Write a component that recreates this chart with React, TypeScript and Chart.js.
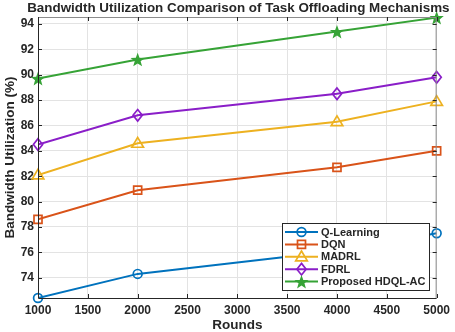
import React, { useEffect, useRef } from "react";
import { Chart, registerables } from "chart.js";

Chart.register(...registerables);

const rounds = [1000, 2000, 4000, 5000];
const qLearning = [72.4, 74.3, 76.1, 77.5];
const dqn = [78.6, 80.9, 82.7, 84.0];
const madrl = [82.1, 84.6, 86.3, 87.9];
const fdrl = [84.5, 86.8, 88.5, 89.8];
const hdqlac = [89.7, 91.2, 93.4, 94.5];
const seriesNames = ["Q-Learning", "DQN", "MADRL", "FDRL", "Proposed HDQL-AC"];
const yTicks = [74, 76, 78, 80, 82, 84, 86, 88, 90, 92, 94];
const xTicks = [1000, 1500, 2000, 2500, 3000, 3500, 4000, 4500, 5000];
const titleText = "Bandwidth Utilization Comparison of Task Offloading Mechanisms";
const xTitle = "Rounds";
const yTitle = "Bandwidth Utilization (%)";

const colors = ["#0072BD", "#D95319", "#EDB120", "#8A1EC8", "#36A336"];
const styles = ["circle", "rect", "triangle", "rectRot", "star5"];
const FONT = "'Liberation Sans', Arial, sans-serif";

function drawMarker(ctx: CanvasRenderingContext2D, style: string, x: number, y: number, color: string) {
  ctx.save();
  ctx.strokeStyle = color;
  ctx.fillStyle = color;
  ctx.lineWidth = 1.7;
  ctx.beginPath();
  if (style === "circle") {
    ctx.arc(x, y, 4.4, 0, Math.PI * 2);
    ctx.stroke();
  } else if (style === "rect") {
    ctx.rect(x - 4, y - 4, 8, 8);
    ctx.stroke();
  } else if (style === "triangle") {
    ctx.moveTo(x, y - 5.8);
    ctx.lineTo(x + 5.8, y + 4);
    ctx.lineTo(x - 5.8, y + 4);
    ctx.closePath();
    ctx.stroke();
  } else if (style === "rectRot") {
    ctx.moveTo(x, y - 5.8);
    ctx.lineTo(x + 4.6, y);
    ctx.lineTo(x, y + 5.8);
    ctx.lineTo(x - 4.6, y);
    ctx.closePath();
    ctx.stroke();
  } else {
    const R = 7.5, r = 3.1;
    for (let i = 0; i < 10; i++) {
      const a = -Math.PI / 2 + (i * Math.PI) / 5;
      const rr = i % 2 === 0 ? R : r;
      const px = x + rr * Math.cos(a), py = y + 0.8 + rr * Math.sin(a);
      if (i === 0) ctx.moveTo(px, py); else ctx.lineTo(px, py);
    }
    ctx.closePath();
    ctx.fill();
  }
  ctx.restore();
}

export default function App() {
  const ref = useRef<HTMLCanvasElement | null>(null);
  useEffect(() => {
    document.body.style.margin = "0";
    const canvas = ref.current!;
    const data = [qLearning, dqn, madrl, fdrl, hdqlac];

    const decor = {
      id: "decor",
      afterDatasetsDraw(chart: any) {
        const ctx = chart.ctx as CanvasRenderingContext2D;
        const a = chart.chartArea;
        const xs = chart.scales.x, ys = chart.scales.y;
        data.forEach((arr, si) => {
          arr.forEach((v, i) => {
            drawMarker(ctx, styles[si], xs.getPixelForValue(rounds[i]), ys.getPixelForValue(v), colors[si]);
          });
        });
        ctx.save();
        ctx.lineWidth = 1;
        ctx.strokeStyle = "#262626";
        ctx.beginPath();
        ctx.moveTo(a.left + 0.5, a.top);
        ctx.lineTo(a.left + 0.5, a.bottom + 0.5);
        ctx.lineTo(a.right, a.bottom + 0.5);
        ctx.stroke();
        ctx.strokeStyle = "#8c8c8c";
        ctx.beginPath();
        ctx.moveTo(a.left, a.top + 0.5);
        ctx.lineTo(a.right - 0.5, a.top + 0.5);
        ctx.lineTo(a.right - 0.5, a.bottom);
        ctx.stroke();
        ctx.strokeStyle = "#262626";
        ctx.beginPath();
        xTicks.forEach((t) => {
          const px = Math.round(xs.getPixelForValue(t)) + 0.5;
          ctx.moveTo(px, a.bottom);
          ctx.lineTo(px, a.bottom - 4);
          ctx.moveTo(px, a.top);
          ctx.lineTo(px, a.top + 4);
        });
        yTicks.forEach((t) => {
          const py = Math.round(ys.getPixelForValue(t)) + 0.5;
          ctx.moveTo(a.left, py);
          ctx.lineTo(a.left + 4, py);
          ctx.moveTo(a.right, py);
          ctx.lineTo(a.right - 4, py);
        });
        ctx.stroke();
        ctx.fillStyle = "#262626";
        ctx.font = `bold 13.4px ${FONT}`;
        ctx.textAlign = "center";
        ctx.textBaseline = "middle";
        ctx.fillText(titleText, (a.left + a.right) / 2 + 1, 8);
        ctx.font = `bold 13.5px ${FONT}`;
        ctx.fillText(xTitle, (a.left + a.right) / 2, 325);
        ctx.save();
        ctx.translate(10, (a.top + a.bottom) / 2);
        ctx.rotate(-Math.PI / 2);
        ctx.font = `bold 13.5px ${FONT}`;
        ctx.fillText(yTitle, 0, 0);
        ctx.restore();
        const lx = 282, ly = 223, lw = 147, lh = 67;
        ctx.fillStyle = "#ffffff";
        ctx.fillRect(lx, ly, lw, lh);
        ctx.strokeStyle = "#262626";
        ctx.lineWidth = 1;
        ctx.strokeRect(lx + 0.5, ly + 0.5, lw, lh);
        ctx.font = `bold 11px ${FONT}`;
        ctx.textAlign = "left";
        seriesNames.forEach((n, i) => {
          const y = 232 + i * 12.4;
          ctx.strokeStyle = colors[i];
          ctx.lineWidth = 2;
          ctx.beginPath();
          ctx.moveTo(285, y);
          ctx.lineTo(318, y);
          ctx.stroke();
          drawMarker(ctx, styles[i], 301.5, y, colors[i]);
          ctx.fillStyle = "#262626";
          ctx.fillText(n, 321, y + 0.5);
        });
        ctx.restore();
      },
    };

    const chart = new Chart(canvas, {
      type: "line",
      data: {
        datasets: data.map((arr, i) => ({
          label: seriesNames[i],
          data: arr.map((v, j) => ({ x: rounds[j], y: v })),
          borderColor: colors[i],
          backgroundColor: colors[i],
          borderWidth: 2,
          pointRadius: 0,
          tension: 0,
        })),
      },
      options: {
        animation: false,
        responsive: false,
        layout: { padding: { top: 17, right: 17, left: 0, bottom: 0 } },
        plugins: { legend: { display: false }, title: { display: false }, tooltip: { enabled: false } },
        scales: {
          x: {
            type: "linear",
            min: 1000,
            max: 5000,
            afterBuildTicks: (s: any) => { s.ticks = xTicks.map((v) => ({ value: v })); },
            afterFit: (s: any) => { s.height = 34; },
            grid: { color: "#e3e3e3", drawTicks: false },
            border: { display: false },
            ticks: {
              color: "#262626",
              font: { family: FONT, size: 12, weight: "bold" },
              padding: 5,
              maxRotation: 0,
              autoSkip: false,
              callback: (v: any) => String(v),
            },
          },
          y: {
            min: 72.4,
            max: 94.55,
            afterBuildTicks: (s: any) => { s.ticks = yTicks.map((v) => ({ value: v })); },
            afterFit: (s: any) => { s.width = 38; },
            grid: { color: "#e3e3e3", drawTicks: false },
            border: { display: false },
            ticks: { color: "#262626", font: { family: FONT, size: 12, weight: "bold" }, padding: 4, callback: (v: any) => String(v) },
          },
        },
      },
      plugins: [decor],
    } as any);
    return () => chart.destroy();
  }, []);
  return <canvas ref={ref} width={455} height={332} style={{ display: "block" }} />;
}
